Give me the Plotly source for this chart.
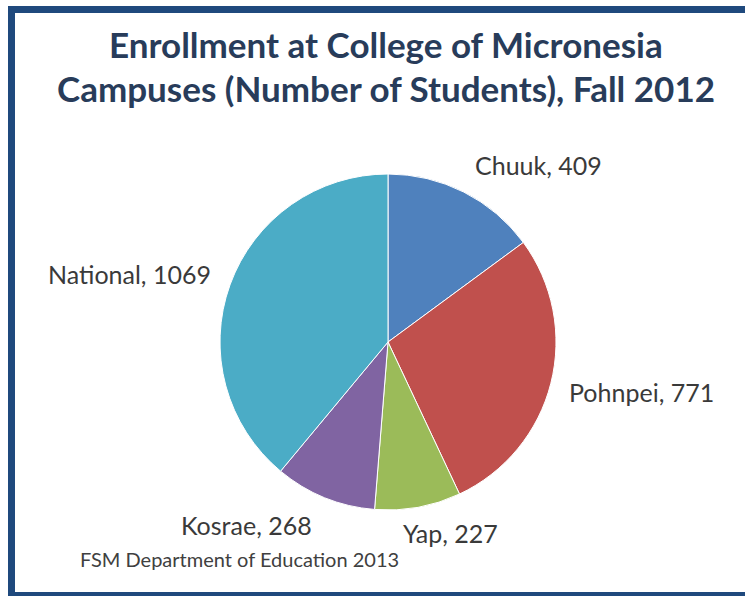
import plotly.graph_objects as go

campuses = ["Chuuk", "Pohnpei", "Yap", "Kosrae", "National"]
students = [409, 771, 227, 268, 1069]
colors = ["#4F81BD", "#C0504D", "#9BBB59", "#8064A2", "#4BACC6"]
title_lines = ["Enrollment at College of Micronesia", "Campuses (Number of Students), Fall 2012"]
source_note = "FSM Department of Education 2013"

# label centre positions (paper coords) - layout only
label_pos = {
    "Chuuk": (538 / 745, 1 - 165 / 596),
    "Pohnpei": (641 / 745, 1 - 392 / 596),
    "Yap": (450 / 745, 1 - 533 / 596),
    "Kosrae": (246 / 745, 1 - 525 / 596),
    "National": (129 / 745, 1 - 274 / 596),
}

W, H = 745, 596
cx, cy, r = 388, 342, 168

fig = go.Figure(go.Pie(
    labels=campuses,
    values=students,
    sort=False,
    direction="clockwise",
    rotation=0,
    marker=dict(colors=colors, line=dict(color="white", width=1)),
    textinfo="none",
    hoverinfo="label+value",
    showlegend=False,
    domain=dict(x=[(cx - r) / W, (cx + r) / W], y=[1 - (cy + r) / H, 1 - (cy - r) / H]),
))

annotations = []
for name, val in zip(campuses, students):
    x, y = label_pos[name]
    annotations.append(dict(
        x=x, y=y, xref="paper", yref="paper", xanchor="center", yanchor="middle",
        text=f"{name}, {val}", showarrow=False,
        font=dict(family="Lato", size=25, color="#3A3A3A"),
    ))

annotations.append(dict(
    x=240 / W, y=1 - 559 / H, xref="paper", yref="paper", xanchor="center", yanchor="middle",
    text=source_note, showarrow=False,
    font=dict(family="Lato", size=20, color="#404040"),
))

for i, line in enumerate(title_lines):
    annotations.append(dict(
        x=386 / W, y=1 - (44 + 44 * i) / H, xref="paper", yref="paper",
        xanchor="center", yanchor="middle", text=f"<b>{line}</b>", showarrow=False,
        font=dict(family="Lato", size=35, color="#283C5A"),
    ))

fig.update_layout(
    width=W, height=H,
    margin=dict(l=0, r=0, t=0, b=0),
    paper_bgcolor="white",
    plot_bgcolor="white",
    annotations=annotations,
    shapes=[dict(
        type="rect", xref="paper", yref="paper",
        x0=11.5 / W, x1=1.02, y0=1 - 595.5 / H, y1=1 - 9.5 / H,
        line=dict(color="#1F497D", width=7), fillcolor="rgba(0,0,0,0)", layer="above",
    )],
)

fig.write_html("out.html")
